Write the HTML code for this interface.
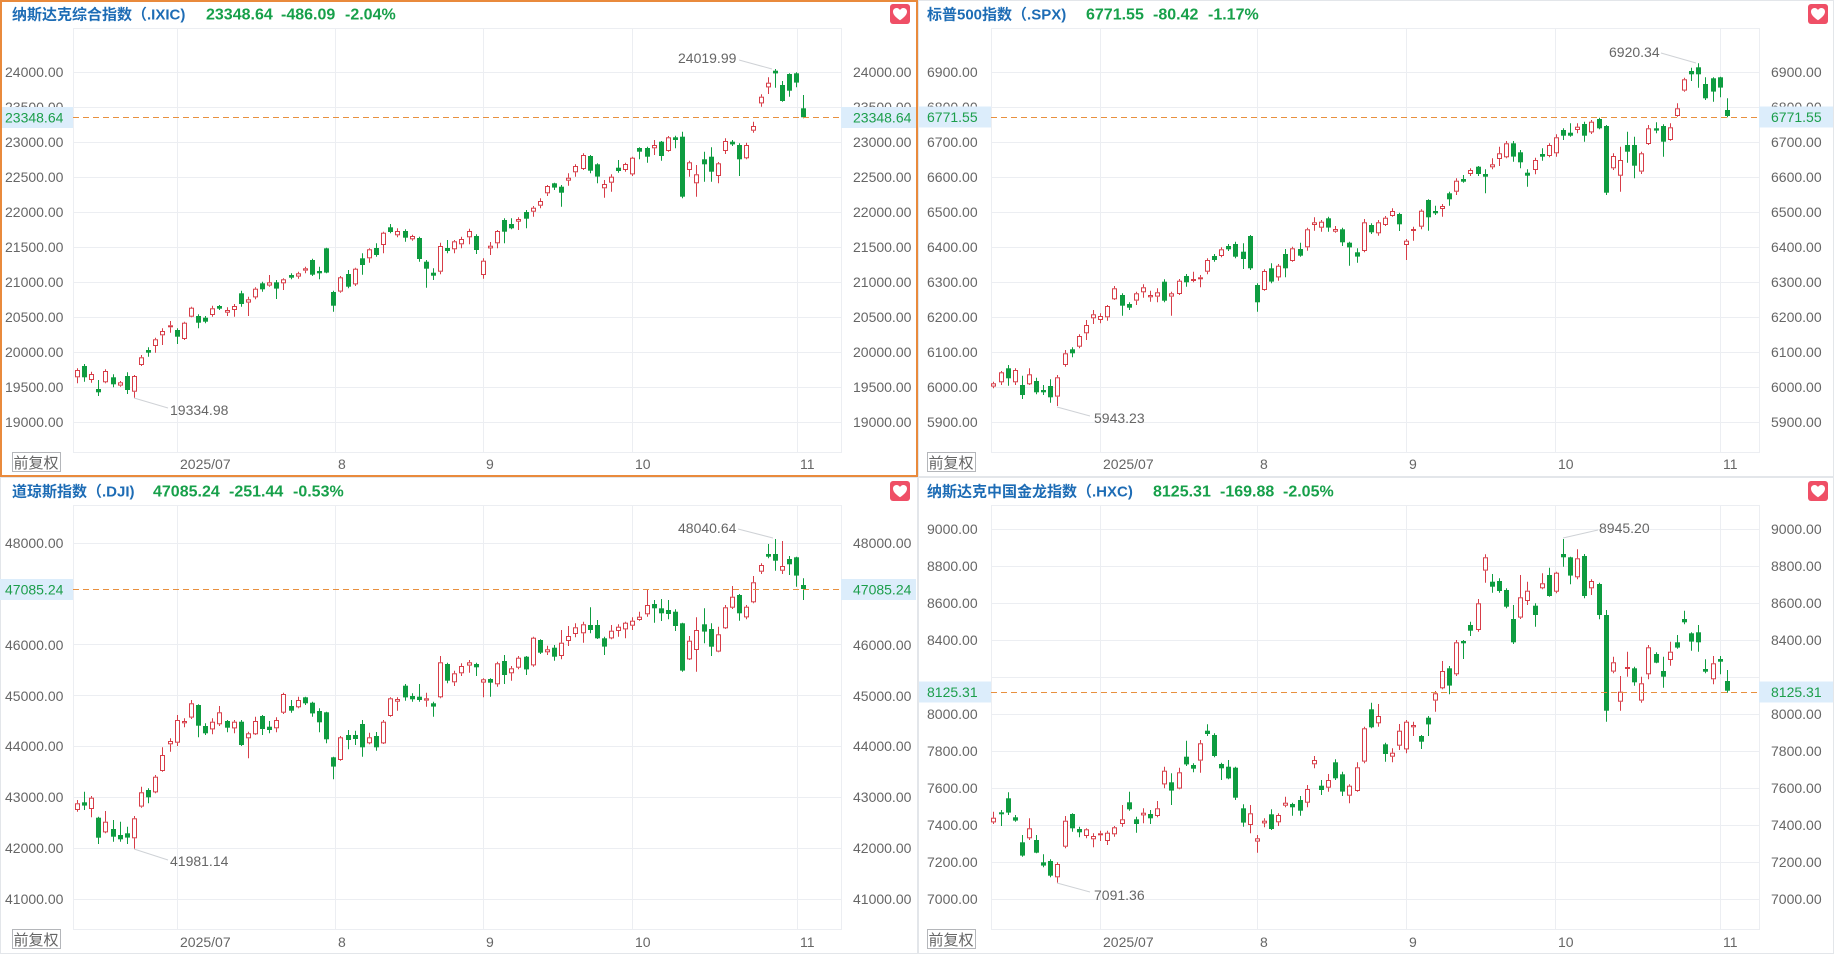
<!DOCTYPE html>
<html>
<head>
<meta charset="utf-8">
<style>
html,body{margin:0;padding:0;background:#fff;}
body{width:1845px;height:954px;overflow:hidden;}
svg{display:block;}
text{font-family:"Liberation Sans","Noto Sans CJK SC",sans-serif;}
</style>
</head>
<body>
<svg width="1845" height="954" viewBox="0 0 1845 954" xmlns="http://www.w3.org/2000/svg">
<defs>
  <clipPath id="clipL"><rect x="0" y="0" width="63" height="954"/></clipPath>
  <path id="heart" d="M10 16.2 C4.2 12.3 3 9.6 3 7.6 C3 5.5 4.6 4 6.6 4 C8.1 4 9.3 4.9 10 6 C10.7 4.9 11.9 4 13.4 4 C15.4 4 17 5.5 17 7.6 C17 9.6 15.8 12.3 10 16.2 Z" fill="#fff"/>
</defs>
<rect x="0" y="0" width="1845" height="954" fill="#fff"/>

<!-- panel borders -->
<rect x="918.5" y="0.5" width="915" height="476" fill="none" stroke="#e3e6ea"/>
<rect x="0.5" y="477.5" width="917" height="476" fill="none" stroke="#e3e6ea"/>
<rect x="918.5" y="477.5" width="915" height="476" fill="none" stroke="#e3e6ea"/>

<!-- ================= GRIDS ================= -->
<g stroke="#eceef2" stroke-width="1" fill="none">
  <!-- TL -->
  <rect x="73.5" y="28.5" width="768" height="424"/>
  <path d="M73 72.5H841M73 107.5H841M73 142.5H841M73 177.5H841M73 212.5H841M73 247.5H841M73 282.5H841M73 317.5H841M73 352.5H841M73 387.5H841M73 422.5H841"/>
  <path d="M177.5 28V452M335.5 28V452M483.5 28V452M632.5 28V452M797.5 28V452"/>
  <!-- TR -->
  <rect x="991.5" y="28.5" width="768" height="424"/>
  <path d="M991 72.5H1759M991 107.5H1759M991 142.5H1759M991 177.5H1759M991 212.5H1759M991 247.5H1759M991 282.5H1759M991 317.5H1759M991 352.5H1759M991 387.5H1759M991 422.5H1759"/>
  <path d="M1100.5 28V452M1257.5 28V452M1406.5 28V452M1555.5 28V452M1720.5 28V452"/>
  <!-- BL -->
  <rect x="73.5" y="505.5" width="768" height="424"/>
  <path d="M73 543.5H841M73 644.5H841M73 695.5H841M73 746.5H841M73 797.5H841M73 848.5H841M73 899.5H841"/>
  <path d="M177.5 505V929M335.5 505V929M483.5 505V929M632.5 505V929M797.5 505V929"/>
  <!-- BR -->
  <rect x="991.5" y="505.5" width="768" height="424"/>
  <path d="M991 529.5H1759M991 566.5H1759M991 603.5H1759M991 640.5H1759M991 677.5H1759M991 714.5H1759M991 751.5H1759M991 788.5H1759M991 825.5H1759M991 862.5H1759M991 899.5H1759"/>
  <path d="M1100.5 505V929M1257.5 505V929M1406.5 505V929M1555.5 505V929M1720.5 505V929"/>
</g>

<!-- candles -->
<g id="cTL"></g>
<g id="cTR"></g>
<g id="cBL"></g>
<g id="cBR"></g>

<!-- dashed current price lines -->
<g stroke="#e8903f" stroke-width="1" stroke-dasharray="6,4" fill="none">
  <path d="M73 117.5H841"/>
  <path d="M991 117.5H1759"/>
  <path d="M73 589.5H841"/>
  <path d="M991 692.5H1759"/>
</g>

<!-- annotation leader lines -->
<g stroke="#cfd2d6" stroke-width="1" fill="none">
  <path d="M739 60L772 69"/>
  <path d="M134 398L168 408"/>
  <path d="M1661 53L1696 63"/>
  <path d="M1057 407L1090 416"/>
  <path d="M738 529L773 538"/>
  <path d="M134 849L168 860"/>
  <path d="M1563 538L1598 530"/>
  <path d="M1057 883L1090 892"/>
</g>

<!-- ================= AXIS LABELS ================= -->
<g font-size="14" fill="#666">
  <!-- TL right -->
  <text x="853" y="77">24000.00</text>
  <text x="853" y="112">23500.00</text>
  <text x="853" y="147">23000.00</text>
  <text x="853" y="182">22500.00</text>
  <text x="853" y="217">22000.00</text>
  <text x="853" y="252">21500.00</text>
  <text x="853" y="287">21000.00</text>
  <text x="853" y="322">20500.00</text>
  <text x="853" y="357">20000.00</text>
  <text x="853" y="392">19500.00</text>
  <text x="853" y="427">19000.00</text>
  <!-- TL left (clipped) -->
  <g clip-path="url(#clipL)">
  <text x="5" y="77">24000.00</text>
  <text x="5" y="112">23500.00</text>
  <text x="5" y="147">23000.00</text>
  <text x="5" y="182">22500.00</text>
  <text x="5" y="217">22000.00</text>
  <text x="5" y="252">21500.00</text>
  <text x="5" y="287">21000.00</text>
  <text x="5" y="322">20500.00</text>
  <text x="5" y="357">20000.00</text>
  <text x="5" y="392">19500.00</text>
  <text x="5" y="427">19000.00</text>
  <!-- BL left -->
  <text x="5" y="548">48000.00</text>
  <text x="5" y="599">47000.00</text>
  <text x="5" y="650">46000.00</text>
  <text x="5" y="701">45000.00</text>
  <text x="5" y="751">44000.00</text>
  <text x="5" y="802">43000.00</text>
  <text x="5" y="853">42000.00</text>
  <text x="5" y="904">41000.00</text>
  </g>
  <!-- TR right -->
  <text x="1771" y="77">6900.00</text>
  <text x="1771" y="112">6800.00</text>
  <text x="1771" y="147">6700.00</text>
  <text x="1771" y="182">6600.00</text>
  <text x="1771" y="217">6500.00</text>
  <text x="1771" y="252">6400.00</text>
  <text x="1771" y="287">6300.00</text>
  <text x="1771" y="322">6200.00</text>
  <text x="1771" y="357">6100.00</text>
  <text x="1771" y="392">6000.00</text>
  <text x="1771" y="427">5900.00</text>
  <!-- TR left -->
  <text x="927" y="77">6900.00</text>
  <text x="927" y="112">6800.00</text>
  <text x="927" y="147">6700.00</text>
  <text x="927" y="182">6600.00</text>
  <text x="927" y="217">6500.00</text>
  <text x="927" y="252">6400.00</text>
  <text x="927" y="287">6300.00</text>
  <text x="927" y="322">6200.00</text>
  <text x="927" y="357">6100.00</text>
  <text x="927" y="392">6000.00</text>
  <text x="927" y="427">5900.00</text>
  <!-- BL right -->
  <text x="853" y="548">48000.00</text>
  <text x="853" y="599">47000.00</text>
  <text x="853" y="650">46000.00</text>
  <text x="853" y="701">45000.00</text>
  <text x="853" y="751">44000.00</text>
  <text x="853" y="802">43000.00</text>
  <text x="853" y="853">42000.00</text>
  <text x="853" y="904">41000.00</text>
  <!-- BR right -->
  <text x="1771" y="534">9000.00</text>
  <text x="1771" y="571">8800.00</text>
  <text x="1771" y="608">8600.00</text>
  <text x="1771" y="645">8400.00</text>
  <text x="1771" y="719">8000.00</text>
  <text x="1771" y="756">7800.00</text>
  <text x="1771" y="793">7600.00</text>
  <text x="1771" y="830">7400.00</text>
  <text x="1771" y="867">7200.00</text>
  <text x="1771" y="904">7000.00</text>
  <!-- BR left -->
  <text x="927" y="534">9000.00</text>
  <text x="927" y="571">8800.00</text>
  <text x="927" y="608">8600.00</text>
  <text x="927" y="645">8400.00</text>
  <text x="927" y="719">8000.00</text>
  <text x="927" y="756">7800.00</text>
  <text x="927" y="793">7600.00</text>
  <text x="927" y="830">7400.00</text>
  <text x="927" y="867">7200.00</text>
  <text x="927" y="904">7000.00</text>

  <!-- date labels -->
  <text x="180" y="469">2025/07</text>
  <text x="338" y="469">8</text>
  <text x="486" y="469">9</text>
  <text x="635" y="469">10</text>
  <text x="800" y="469">11</text>
  <text x="1103" y="469">2025/07</text>
  <text x="1260" y="469">8</text>
  <text x="1409" y="469">9</text>
  <text x="1558" y="469">10</text>
  <text x="1723" y="469">11</text>
  <text x="180" y="947">2025/07</text>
  <text x="338" y="947">8</text>
  <text x="486" y="947">9</text>
  <text x="635" y="947">10</text>
  <text x="800" y="947">11</text>
  <text x="1103" y="947">2025/07</text>
  <text x="1260" y="947">8</text>
  <text x="1409" y="947">9</text>
  <text x="1558" y="947">10</text>
  <text x="1723" y="947">11</text>

  <!-- extreme annotations -->
  <text x="678" y="63">24019.99</text>
  <text x="170" y="415">19334.98</text>
  <text x="1609" y="57">6920.34</text>
  <text x="1094" y="423">5943.23</text>
  <text x="678" y="533">48040.64</text>
  <text x="170" y="866">41981.14</text>
  <text x="1599" y="533">8945.20</text>
  <text x="1094" y="900">7091.36</text>
</g>

<!-- current price boxes -->
<g>
  <rect x="0" y="107" width="73" height="21" fill="#dcedfb"/>
  <rect x="841" y="107" width="75" height="21" fill="#dcedfb"/>
  <rect x="919" y="106.5" width="72" height="21" fill="#dcedfb"/>
  <rect x="1759" y="106.5" width="74" height="21" fill="#dcedfb"/>
  <rect x="0" y="579" width="73" height="21" fill="#dcedfb"/>
  <rect x="841" y="579" width="75" height="21" fill="#dcedfb"/>
  <rect x="919" y="681.5" width="72" height="21" fill="#dcedfb"/>
  <rect x="1759" y="681.5" width="74" height="21" fill="#dcedfb"/>
</g>
<g font-size="14" fill="#1c9e4b">
  <g clip-path="url(#clipL)"><text x="5" y="122.5">23348.64</text><text x="5" y="594.5">47085.24</text></g>
  <text x="853" y="122.5">23348.64</text>
  <text x="927" y="122">6771.55</text>
  <text x="1771" y="122">6771.55</text>
  <text x="853" y="594.5">47085.24</text>
  <text x="927" y="697">8125.31</text>
  <text x="1771" y="697">8125.31</text>
</g>

<!-- 前复权 buttons -->
<g fill="#fff" stroke="#b4b6ba" stroke-width="1">
  <rect x="12.5" y="452.5" width="48" height="19"/>
  <rect x="927.5" y="452.5" width="48" height="19"/>
  <rect x="12.5" y="929.5" width="48" height="19"/>
  <rect x="927.5" y="929.5" width="48" height="19"/>
</g>
<g font-size="15" fill="#666">
  <text x="13.5" y="468">前复权</text>
  <text x="928.5" y="468">前复权</text>
  <text x="13.5" y="945">前复权</text>
  <text x="928.5" y="945">前复权</text>
</g>

<!-- titles -->
<g font-weight="bold">
  <text x="12" y="19.5" font-size="15" fill="#1d6cb5">纳斯达克综合指数（.IXIC)</text>
  <text x="206" y="19.5" font-size="16" fill="#17a04a">23348.64</text>
  <text x="281" y="19.5" font-size="16" fill="#17a04a">-486.09</text>
  <text x="345" y="19.5" font-size="16" fill="#17a04a">-2.04%</text>

  <text x="927" y="19.5" font-size="15" fill="#1d6cb5">标普500指数（.SPX)</text>
  <text x="1086" y="19.5" font-size="16" fill="#17a04a">6771.55</text>
  <text x="1153" y="19.5" font-size="16" fill="#17a04a">-80.42</text>
  <text x="1208" y="19.5" font-size="16" fill="#17a04a">-1.17%</text>

  <text x="12" y="496.5" font-size="15" fill="#1d6cb5">道琼斯指数（.DJI)</text>
  <text x="153" y="496.5" font-size="16" fill="#17a04a">47085.24</text>
  <text x="229" y="496.5" font-size="16" fill="#17a04a">-251.44</text>
  <text x="293" y="496.5" font-size="16" fill="#17a04a">-0.53%</text>

  <text x="927" y="496.5" font-size="15" fill="#1d6cb5">纳斯达克中国金龙指数（.HXC)</text>
  <text x="1153" y="496.5" font-size="16" fill="#17a04a">8125.31</text>
  <text x="1220" y="496.5" font-size="16" fill="#17a04a">-169.88</text>
  <text x="1283" y="496.5" font-size="16" fill="#17a04a">-2.05%</text>
</g>

<!-- heart icons -->
<g>
  <rect x="890" y="4" width="20" height="20" rx="3" fill="#ef4f66"/>
  <use href="#heart" x="890" y="4"/>
  <rect x="1808" y="4" width="20" height="20" rx="3" fill="#ef4f66"/>
  <use href="#heart" x="1808" y="4"/>
  <rect x="890" y="481" width="20" height="20" rx="3" fill="#ef4f66"/>
  <use href="#heart" x="890" y="481"/>
  <rect x="1808" y="481" width="20" height="20" rx="3" fill="#ef4f66"/>
  <use href="#heart" x="1808" y="481"/>
</g>

<!-- active panel orange border -->
<rect x="1" y="1" width="916" height="475" fill="none" stroke="#e98a3c" stroke-width="2"/>
</svg>

<script>
var G="#0e9c40", R="#d73d48";
var IXIC=[
['r',990,1012,985,1030],['g',978,1012,972,1025],['r',1002,1020,995,1028],['g',1047,1057,1020,1068],['r',993,1027,988,1030],
['g',1012,1033,1003,1042],['r',1027,1037,1023,1040],['g',1008,1050,997,1062],['r',1008,1055,1005,1075],['r',952,975,945,978],
['g',930,938,922,950],['r',898,918,893,938],['r',873,886,865,915],['r',856,862,843,878],['g',870,890,865,912],
['r',848,897,845,900],['r',803,830,800,832],['g',828,848,823,865],['g',833,845,828,850],['r',805,825,797,830],
['g',798,806,795,810],['r',810,818,802,828],['r',798,810,792,830],['g',760,792,752,800],['r',778,788,770,828],
['r',746,772,742,778],['g',730,748,725,755],['r',727,737,705,740],['g',727,746,720,777],['r',718,730,715,750],
['g',705,713,700,718],['r',700,710,695,716],['r',685,692,680,700],['g',660,704,656,708],['g',693,700,680,718],
['g',625,698,623,700],['g',756,797,752,815],['r',712,755,708,758],['g',702,740,690,745],['r',686,733,683,738],
['g',655,675,640,704],['r',628,655,625,668],['g',624,645,610,650],['r',578,615,575,640],['g',562,576,552,580],
['r',573,586,565,592],['g',573,593,568,605],['r',588,598,584,602],['g',594,657,590,665],['g',665,686,660,743],
['g',698,707,685,720],['r',618,695,608,703],['g',624,633,600,640],['r',604,628,600,640],['r',597,613,590,625],
['r',573,592,566,613],['g',588,630,583,642],['r',662,705,655,716],['r',617,625,606,645],['r',573,610,570,625],
['g',540,575,535,610],['g',552,565,535,568],['r',537,545,532,570],['g',516,536,510,565],['r',503,515,498,530],
['r',483,497,475,505],['r',438,460,435,468],['g',430,443,428,450],['g',440,458,435,500],['r',413,422,400,437],
['r',378,397,373,410],['r',345,387,340,390],['g',348,392,345,400],['g',373,410,370,430],['r',432,445,420,473],
['r',410,428,403,455],['g',383,393,360,398],['r',372,390,368,395],['r',353,403,350,408],['g',324,335,322,358],
['g',324,350,320,368],['r',315,325,300,345],['g',305,348,303,362],['r',292,333,288,335],['g',292,300,287,325],
['g',290,470,275,475],['r',367,390,362,410],['r',403,430,375,470],['g',358,373,335,425],['g',350,395,322,425],
['r',370,408,366,430],['r',303,333,295,342],['g',305,313,300,318],['g',315,358,310,408],['r',315,355,308,358],
['r',258,272,245,278],['r',170,190,163,200],['r',128,142,112,162],['g',92,100,87,143],['g',135,183,123,185],
['g',102,152,100,170],['g',100,128,97,142],['g',205,232,165,235]
];
var SPX=[
['r',1030,1040,1025,1045],['r',997,1027,993,1035],['g',985,1015,975,1037],['r',990,1027,985,1035],['g',1035,1065,1007,1077],
['r',1003,1033,985,1035],['g',1023,1057,1013,1063],['g',1050,1057,1035,1065],['g',1038,1072,1018,1088],['r',1012,1070,1005,1098],
['r',940,975,930,980],['g',928,940,922,952],['r',888,920,883,925],['r',855,880,840,900],['r',823,835,810,852],
['r',828,840,820,850],['r',798,832,795,842],['r',745,778,738,780],['g',765,797,760,827],['g',792,803,787,810],
['r',760,782,755,795],['r',742,757,733,773],['r',765,772,752,785],['r',757,770,745,787],['g',725,782,718,787],
['r',760,770,755,827],['r',722,762,717,765],['g',708,727,702,740],['r',717,723,695,727],['r',712,718,705,742],
['r',660,695,655,703],['g',648,660,642,665],['r',628,648,622,652],['g',618,628,612,633],['g',612,650,605,655],
['g',635,657,610,687],['g',588,685,585,690],['g',735,787,730,815],['r',693,750,688,752],['g',685,725,670,730],
['r',677,712,672,722],['g',642,685,627,712],['r',625,663,620,665],['g',627,647,608,650],['r',568,622,563,632],
['r',547,555,532,572],['r',545,563,540,575],['g',535,563,530,575],['r',567,575,558,578],['g',568,607,563,618],
['g',608,622,605,677],['g',637,650,625,668],['r',547,633,537,637],['g',555,577,550,582],['r',547,580,540,587],
['r',533,555,528,558],['r',513,528,505,530],['g',522,553,518,573],['r',602,615,597,660],['r',567,573,560,602],
['r',512,560,508,568],['g',480,532,478,572],['g',513,520,497,525],['r',498,507,492,530],['g',460,478,455,497],
['r',422,455,415,465],['g',417,425,405,428],['r',390,402,385,408],['g',380,402,378,408],['g',402,410,388,460],
['r',373,382,355,388],['r',340,357,320,378],['r',310,352,303,355],['g',310,350,303,365],['g',337,367,330,385],
['g',398,407,388,440],['r',360,390,353,403],['g',342,350,325,362],['r',315,348,310,352],['r',292,340,283,350],
['g',270,287,265,300],['g',278,287,250,290],['r',260,270,250,280],['g',252,287,245,305],['r',245,277,240,282],
['g',237,265,233,268],['g',258,458,255,465],['r',348,385,340,390],['r',360,407,320,455],['g',315,335,275,368],
['g',315,377,290,415],['r',340,395,335,402],['r',265,312,255,315],['g',265,272,247,280],['g',258,305,253,350],
['r',262,300,250,302],['r',205,228,190,230],['r',118,152,113,155],['g',93,103,83,123],['g',82,103,70,143],
['g',132,175,112,180],['g',115,155,112,185],['g',112,143,110,172],['g',210,228,175,232]
];
var DJI=[
['r',850,870,840,875],['g',847,857,815,870],['r',833,867,828,892],['g',893,953,890,972],['r',905,937,873,940],
['g',927,950,900,965],['g',945,958,905,965],['g',940,953,920,972],['r',895,955,888,988],['r',817,860,800,863],
['g',810,832,805,850],['r',770,817,765,820],['r',705,753,682,755],['r',663,673,655,695],['r',600,668,585,678],
['r',603,610,595,622],['r',550,593,540,597],['g',555,617,553,652],['g',618,640,610,645],['r',605,628,595,643],
['r',577,613,558,618],['g',603,623,600,637],['r',605,625,600,640],['g',605,675,600,678],['r',640,655,635,715],
['r',603,643,590,645],['g',588,627,585,645],['g',620,630,603,640],['r',600,625,592,637],['r',522,578,518,582],
['g',558,572,540,578],['r',540,562,530,565],['g',532,550,530,555],['g',548,580,545,590],['g',573,607,565,637],
['g',577,658,575,670],['g',712,740,710,778],['r',652,720,648,722],['g',645,660,630,688],['g',645,657,632,675],
['g',612,682,600,710],['r',652,670,638,673],['g',648,682,636,692],['r',605,670,600,672],['r',535,588,532,590],
['r',537,545,532,572],['g',497,532,492,542],['g',528,538,520,545],['g',530,540,492,545],['r',535,542,518,560],
['g',550,560,545,590],['r',427,532,408,535],['g',432,482,428,490],['r',460,487,452,498],['r',438,460,430,468],
['r',427,437,420,458],['g',432,442,428,468],['r',478,488,475,532],['g',477,488,475,530],['r',430,493,425,500],
['g',423,465,405,492],['r',445,460,438,482],['r',413,443,408,448],['g',410,448,408,465],['r',353,436,350,440],
['g',360,398,358,402],['r',388,397,377,405],['g',383,410,375,422],['r',368,408,330,418],['r',348,363,318,378],
['r',322,342,310,352],['r',313,340,305,368],['g',315,330,262,340],['g',315,355,300,357],['g',355,380,350,405],
['r',332,355,315,358],['r',320,333,313,350],['r',308,328,305,355],['r',302,317,292,330],['r',290,300,275,302],
['r',255,283,208,290],['g',252,265,240,308],['g',265,280,237,303],['g',270,282,240,298],['g',275,318,268,333],
['g',310,452,308,455],['r',362,418,348,420],['r',330,390,292,455],['g',313,335,265,370],['g',327,380,310,408],
['r',343,395,320,397],['r',262,325,255,327],['r',230,263,198,267],['g',225,280,222,302],['r',260,292,255,298],
['r',187,247,168,250],['r',135,155,130,162],['g',102,110,72,115],['g',102,122,57,152],['r',138,152,63,162],
['g',117,133,108,165],['g',112,167,110,200],['g',195,207,175,240]
];
var HXC=[
['r',893,907,875,912],['g',877,883,870,918],['g',835,878,817,885],['g',892,902,885,905],['g',967,1007,945,1010],
['r',925,955,895,960],['g',960,998,945,1000],['g',1027,1037,1003,1042],['g',1023,1067,1018,1072],['r',1032,1072,1027,1088],
['r',902,980,888,985],['g',882,925,880,935],['g',927,937,920,952],['r',928,948,925,955],['r',948,958,940,982],
['r',940,946,932,963],['r',938,963,932,975],['r',922,943,918,950],['r',898,912,855,920],['g',847,868,815,872],
['g',898,912,890,938],['r',878,886,865,910],['g',882,895,870,912],['r',865,888,843,892],['r',752,793,740,805],
['g',787,812,760,855],['r',757,806,743,808],['g',710,733,662,738],['g',735,746,730,757],['r',670,722,660,758],
['g',632,642,613,648],['g',645,708,640,712],['g',732,745,728,780],['g',740,775,720,778],['g',743,833,740,840],
['g',865,908,853,920],['r',880,915,855,940],['r',955,965,945,998],['r',902,910,895,922],['g',883,927,868,930],
['r',885,907,880,918],['r',848,857,830,862],['g',852,862,848,887],['g',840,872,828,887],['r',807,848,795,862],
['r',720,733,708,745],['g',797,810,780,825],['r',780,803,762,815],['g',727,775,718,780],['g',763,815,755,828],
['r',797,827,793,850],['r',742,813,727,815],['r',625,725,620,730],['g',568,622,548,625],['r',588,610,552,620],
['g',673,702,668,725],['r',698,710,685,727],['r',632,677,612,690],['r',605,688,600,700],['r',615,622,605,648],
['g',648,665,645,687],['g',593,613,588,648],['r',520,542,513,575],['r',453,505,423,508],['g',445,497,438,523],
['r',367,463,360,468],['g',363,370,360,417],['g',315,332,305,348],['r',250,330,237,335],['r',112,152,103,188],
['g',185,200,162,218],['g',183,213,175,218],['g',210,260,205,265],['g',297,367,255,372],['r',232,293,165,297],
['r',212,243,185,255],['g',257,285,250,320],['r',190,205,160,208],['g',165,228,143,230],['r',158,215,155,220],
['g',102,112,57,140],['g',112,167,110,193],['r',115,172,88,178],['g',108,228,102,235],['r',183,205,178,225],
['g',192,285,188,298],['g',285,572,270,605],['r',427,455,410,460],['r',515,545,468,572],['r',441,447,395,470],
['g',445,487,440,497],['r',490,542,470,548],['r',382,463,375,478],['g',402,428,397,430],['g',453,470,410,503],
['r',395,420,365,437],['g',367,383,345,386],['g',297,307,272,313],['g',340,365,337,392],['g',337,367,315,395],
['g',447,455,418,460],['r',430,478,408,493],['g',417,425,408,463],['g',483,512,450,518]
];
function draw(id,data,x0,base){
  var s='';
  for(var i=0;i<data.length;i++){
    var d=data[i];
    var cx=Math.round(x0+7.12*i)+0.5;
    var bt=base+d[1]/3, bb=base+d[2]/3, wt=base+d[3]/3, wb=base+d[4]/3;
    if(d[0]==='g'){
      s+='<line x1="'+cx+'" x2="'+cx+'" y1="'+wt.toFixed(1)+'" y2="'+wb.toFixed(1)+'" stroke="'+G+'" stroke-width="1"/>';
      s+='<rect x="'+(cx-2.5)+'" y="'+bt.toFixed(1)+'" width="5" height="'+Math.max(1,bb-bt).toFixed(1)+'" fill="'+G+'"/>';
    }else{
      s+='<line x1="'+cx+'" x2="'+cx+'" y1="'+wt.toFixed(1)+'" y2="'+bt.toFixed(1)+'" stroke="'+R+'" stroke-width="1"/>';
      s+='<line x1="'+cx+'" x2="'+cx+'" y1="'+bb.toFixed(1)+'" y2="'+wb.toFixed(1)+'" stroke="'+R+'" stroke-width="1"/>';
      s+='<rect x="'+(cx-2)+'" y="'+(bt+0.5).toFixed(1)+'" width="4" height="'+Math.max(0.5,bb-bt-1).toFixed(1)+'" fill="#fff" stroke="'+R+'" stroke-width="1"/>';
    }
  }
  document.getElementById(id).innerHTML=s;
}
draw('cTL',IXIC,77,40);
draw('cTR',SPX,993.4,40);
draw('cBL',DJI,77,520);
draw('cBR',HXC,993.4,520);
</script>
</body>
</html>
